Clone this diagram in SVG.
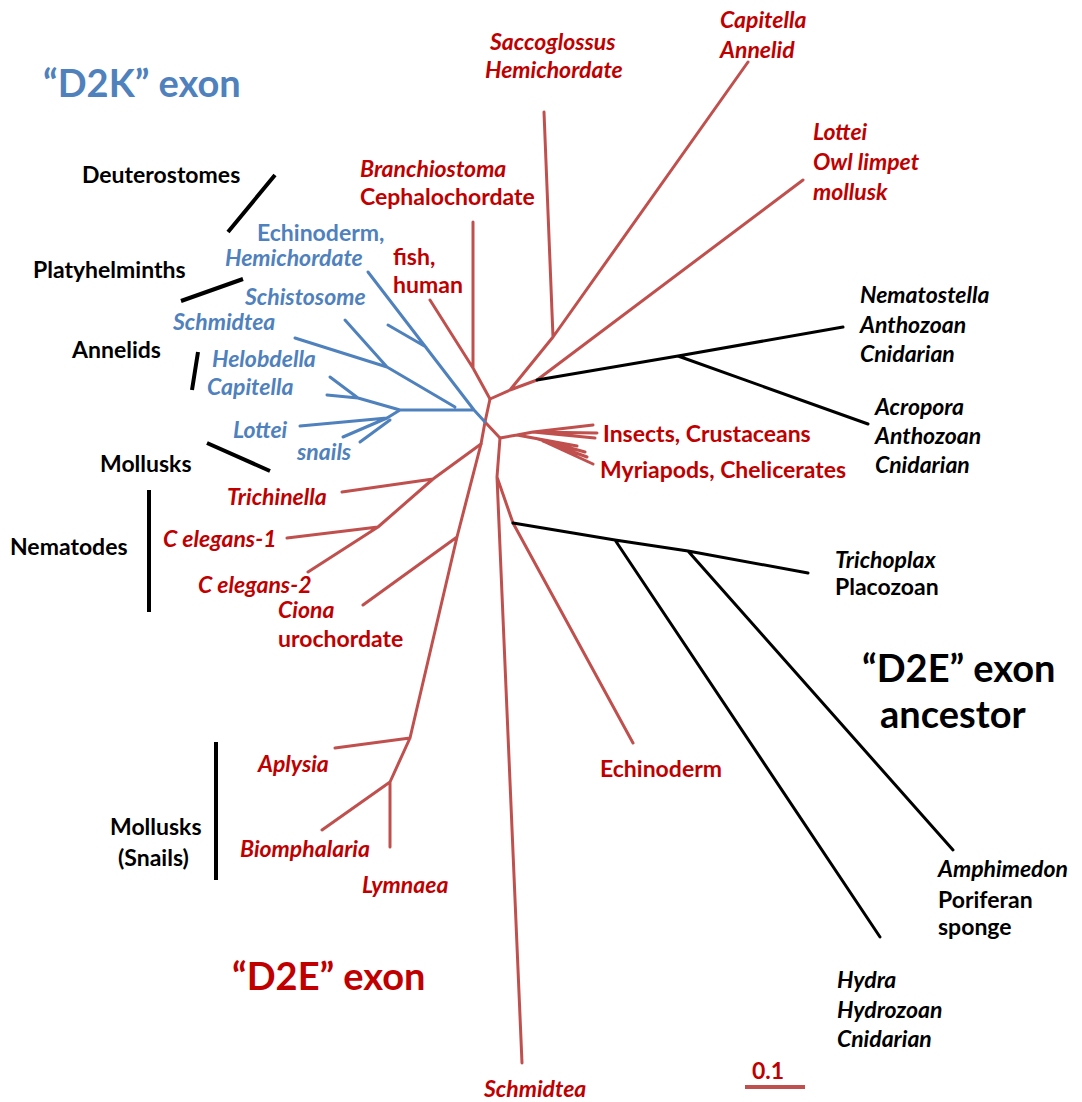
<svg xmlns="http://www.w3.org/2000/svg" width="1082" height="1102" viewBox="0 0 1082 1102">
<style>
.r{stroke:#c0504d;stroke-width:3;fill:none;stroke-linecap:round;stroke-linejoin:round}
.b{stroke:#4f81bd;stroke-width:3;fill:none;stroke-linecap:round;stroke-linejoin:round}
.k{stroke:#000;stroke-width:3;fill:none;stroke-linecap:round;stroke-linejoin:round}
.bar{stroke:#000;stroke-width:4;fill:none}
text{font-family:Lato,"Open Sans","Liberation Sans",sans-serif;font-weight:bold;font-size:23px}
.tr{fill:#c00000}
.tb{fill:#4f81bd}
.tk{fill:#000}
.i{font-style:italic}
.big{font-size:38px}
</style>
<rect width="1082" height="1102" fill="#fff"/>
<g id="connectors">
<path class="r" d="M430,300 L473,368 L490,399 M473,222 L473,368 M490,399 L510,390 L537,380 M510,390 L553,337 M544,112 L553,337 L748,62 M537,380 L803,180"/>
<path class="r" d="M490,399 L485,422 L500,438 L517,435 M517,435 L533,432 L593,425 M533,432 L597,433 M533,432 L595,438 M517,435 L577,446 M538,439 L585,452 M543,441 L587,457 M543,441 L593,464"/>
<path class="r" d="M500,438 L497,477 L522,1063 M497,477 L513,523 L633,743"/>
<path class="r" d="M485,422 L481,444 L433,479 L378,527 L308,572 M342,492 L433,479 M287,538 L378,527"/>
<path class="r" d="M481,444 L457,537 L410,738 L390,782 L322,830 M457,537 L363,605 M335,748 L410,738 M390,782 L390,847"/>
<path class="b" d="M368,272 L474,410 L485,422 M388,325 L426,347 M345,320 L387,367 M295,338 L387,367 L455,407 M327,395 L358,398 L400,410 L474,410 M330,377 L358,398 M300,426 L387,418 L400,410 M343,437 L387,418 M360,442 L390,420"/>
<path class="k" d="M537,380 L678,356 L843,327 M678,356 L868,424 M513,523 L615,540 L688,551 L808,573 M615,540 L880,937 M688,551 L953,850"/>
<path class="bar" d="M275,175 L228,232 M243,279 L181,301 M198,352 L192,390 M207,443 L270,471 M149,490 L149,612 M216,742 L216,880"/>
<path d="M745,1087 L805,1087" stroke="#c0504d" stroke-width="4"/>
</g>
<g id="title-d2k"><text class="tb big" x="43" y="97">“D2K” exon</text></g>
<g id="title-d2e"><text class="tr big" x="232" y="990">“D2E” exon</text></g>
<g id="title-ancestor"><text class="tk big" x="862" y="682">“D2E” exon</text><text class="tk big" x="880" y="728">ancestor</text></g>
<g id="scale"><text class="tr" x="752" y="1079">0.1</text></g>
<g id="grp-deuterostomes"><text class="tk" x="82" y="183">Deuterostomes</text></g>
<g id="grp-platyhelminths"><text class="tk" x="33" y="278">Platyhelminths</text></g>
<g id="grp-annelids"><text class="tk" x="72" y="358">Annelids</text></g>
<g id="grp-mollusks"><text class="tk" x="100" y="472">Mollusks</text></g>
<g id="grp-nematodes"><text class="tk" x="10" y="555">Nematodes</text></g>
<g id="grp-snails"><text class="tk" x="110" y="835">Mollusks</text><text class="tk" x="118" y="866">(Snails)</text></g>
<g id="n-saccoglossus"><text class="tr i" x="490" y="50">Saccoglossus</text><text class="tr i" x="485" y="78">Hemichordate</text></g>
<g id="n-capitella-red"><text class="tr i" x="720" y="28">Capitella</text><text class="tr i" x="720" y="58">Annelid</text></g>
<g id="n-lottei-red"><text class="tr i" x="813" y="140">Lottei</text><text class="tr i" x="813" y="170">Owl limpet</text><text class="tr i" x="813" y="200">mollusk</text></g>
<g id="n-branchiostoma"><text class="tr i" x="360" y="177">Branchiostoma</text><text class="tr" x="360" y="205">Cephalochordate</text></g>
<g id="n-fish"><text class="tr" x="393" y="265">fish,</text><text class="tr" x="393" y="293">human</text></g>
<g id="n-echinoderm-blue"><text class="tb" x="257" y="241">Echinoderm,</text><text class="tb i" x="225" y="266">Hemichordate</text></g>
<g id="n-schistosome"><text class="tb i" x="245" y="305">Schistosome</text></g>
<g id="n-schmidtea-blue"><text class="tb i" x="173" y="330">Schmidtea</text></g>
<g id="n-helobdella"><text class="tb i" x="212" y="367">Helobdella</text></g>
<g id="n-capitella-blue"><text class="tb i" x="207" y="395">Capitella</text></g>
<g id="n-lottei-blue"><text class="tb i" x="233" y="438">Lottei</text></g>
<g id="n-snails"><text class="tb i" x="297" y="460">snails</text></g>
<g id="n-trichinella"><text class="tr i" x="227" y="505">Trichinella</text></g>
<g id="n-celegans1"><text class="tr i" x="163" y="547">C elegans-1</text></g>
<g id="n-celegans2"><text class="tr i" x="198" y="593">C elegans-2</text></g>
<g id="n-ciona"><text class="tr i" x="278" y="618">Ciona</text><text class="tr" x="278" y="647">urochordate</text></g>
<g id="n-aplysia"><text class="tr i" x="258" y="772">Aplysia</text></g>
<g id="n-biomphalaria"><text class="tr i" x="240" y="857">Biomphalaria</text></g>
<g id="n-lymnaea"><text class="tr i" x="362" y="893">Lymnaea</text></g>
<g id="n-schmidtea-red"><text class="tr i" x="484" y="1097">Schmidtea</text></g>
<g id="n-echinoderm-red"><text class="tr" x="600" y="777">Echinoderm</text></g>
<g id="n-insects"><text class="tr" x="603" y="442">Insects, Crustaceans</text></g>
<g id="n-myriapods"><text class="tr" x="600" y="478">Myriapods, Chelicerates</text></g>
<g id="n-nematostella"><text class="tk i" x="860" y="303">Nematostella</text><text class="tk i" x="860" y="333">Anthozoan</text><text class="tk i" x="860" y="362">Cnidarian</text></g>
<g id="n-acropora"><text class="tk i" x="875" y="415">Acropora</text><text class="tk i" x="875" y="444">Anthozoan</text><text class="tk i" x="875" y="473">Cnidarian</text></g>
<g id="n-trichoplax"><text class="tk i" x="835" y="568">Trichoplax</text><text class="tk" x="835" y="595">Placozoan</text></g>
<g id="n-amphimedon"><text class="tk i" x="938" y="877">Amphimedon</text><text class="tk" x="938" y="908">Poriferan</text><text class="tk" x="938" y="935">sponge</text></g>
<g id="n-hydra"><text class="tk i" x="837" y="988">Hydra</text><text class="tk i" x="837" y="1018">Hydrozoan</text><text class="tk i" x="837" y="1047">Cnidarian</text></g>
</svg>
